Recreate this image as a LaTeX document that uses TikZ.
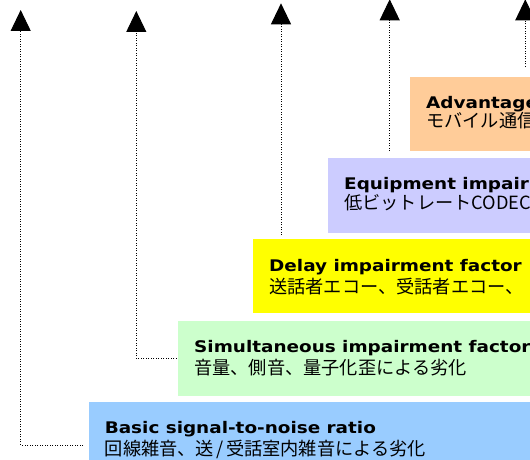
\documentclass[tikz,border=0pt]{standalone}
\usepackage{fontspec}
\setmainfont{DejaVu Sans}
\newfontfamily\titlefont[FakeStretch=1.15]{DejaVu Sans Bold}
\newfontfamily\jpfont{Noto Sans CJK JP}
\usetikzlibrary{arrows.meta}
\definecolor{advfill}{HTML}{FFCC99}
\definecolor{eqpfill}{HTML}{CCCCFF}
\definecolor{dlyfill}{HTML}{FFFF00}
\definecolor{simfill}{HTML}{CCFFCC}
\definecolor{basfill}{HTML}{99CCFF}
\begin{document}
\begin{tikzpicture}[x=1pt,y=-1pt,
  layer/.style={rectangle, draw=none, inner sep=0pt, outer sep=0pt, anchor=north west},
  title/.style={anchor=base west, inner sep=0pt, font=\fontsize{16}{19}\selectfont\titlefont},
  note/.style={anchor=base west, inner sep=0pt, font=\fontsize{18.2}{21}\selectfont\jpfont},
  conn/.style={line width=1pt, dash pattern=on 1pt off 1.5pt,
    -{Triangle[width=20pt,length=21pt]}}]
\useasboundingbox (0,0) rectangle (530,460);
\clip (0,0) rectangle (530,460);

% stacked layers of the rating model
\node[layer, fill=advfill, minimum width=130pt, minimum height=74pt] (adv) at (410,77) {};
\node[layer, fill=eqpfill, minimum width=212pt, minimum height=75pt] (eqp) at (328,158) {};
\node[layer, fill=dlyfill, minimum width=287pt, minimum height=74pt] (dly) at (253,239) {};
\node[layer, fill=simfill, minimum width=362pt, minimum height=75pt] (sim) at (178,321) {};
\node[layer, fill=basfill, minimum width=452pt, minimum height=86pt] (bas) at (88.6,402) {};

% labels
\node[title] (advT) at ([shift={(16,31)}]adv.north west) {Advantage};
\node[note]  (advJ) at ([shift={(16,50)}]adv.north west) {モバイル通信};
\node[title] (eqpT) at ([shift={(16,31)}]eqp.north west) {Equipment impair};
\node[note]  (eqpJ) at ([shift={(16,51)}]eqp.north west) {低ビットレートCODEC};
\node[title] (dlyT) at ([shift={(16,32)}]dly.north west) {Delay impairment factor};
\node[note]  (dlyJ) at ([shift={(16,54)}]dly.north west) {送話者エコー、受話者エコー、};
\node[title] (simT) at ([shift={(16,31)}]sim.north west) {Simultaneous impairment factor};
\node[note]  (simJ) at ([shift={(16,53)}]sim.north west) {音量、側音、量子化歪による劣化};
\node[title] (basT) at ([shift={(16,31)}]bas.north west) {Basic signal-to-noise ratio};
\node[note]  (basJ) at ([shift={(16,53)}]bas.north west) {回線雑音、送\kern2.5pt/\kern2.5pt受話室内雑音による劣化};

% arrow tips at the top
\coordinate (t1) at (20.7,10);
\coordinate (t2) at (136.3,11);
\coordinate (t3) at (281,3.3);
\coordinate (t4) at (389.7,-0.7);
\coordinate (t5) at (525.3,-0.7);

% dotted connectors
\draw[conn, shorten <=5.6pt] (bas.west) -| (t1);
\draw[conn, shorten <=1.5pt] (sim.west) -| (t2);
\draw[conn, shorten <=4pt] (t3 |- dly.north) -- (t3);
\draw[conn, shorten <=7pt] (t4 |- eqp.north) -- (t4);
\draw[conn, shorten <=10pt] (t5 |- adv.north) -- (t5);
\end{tikzpicture}
\end{document}
